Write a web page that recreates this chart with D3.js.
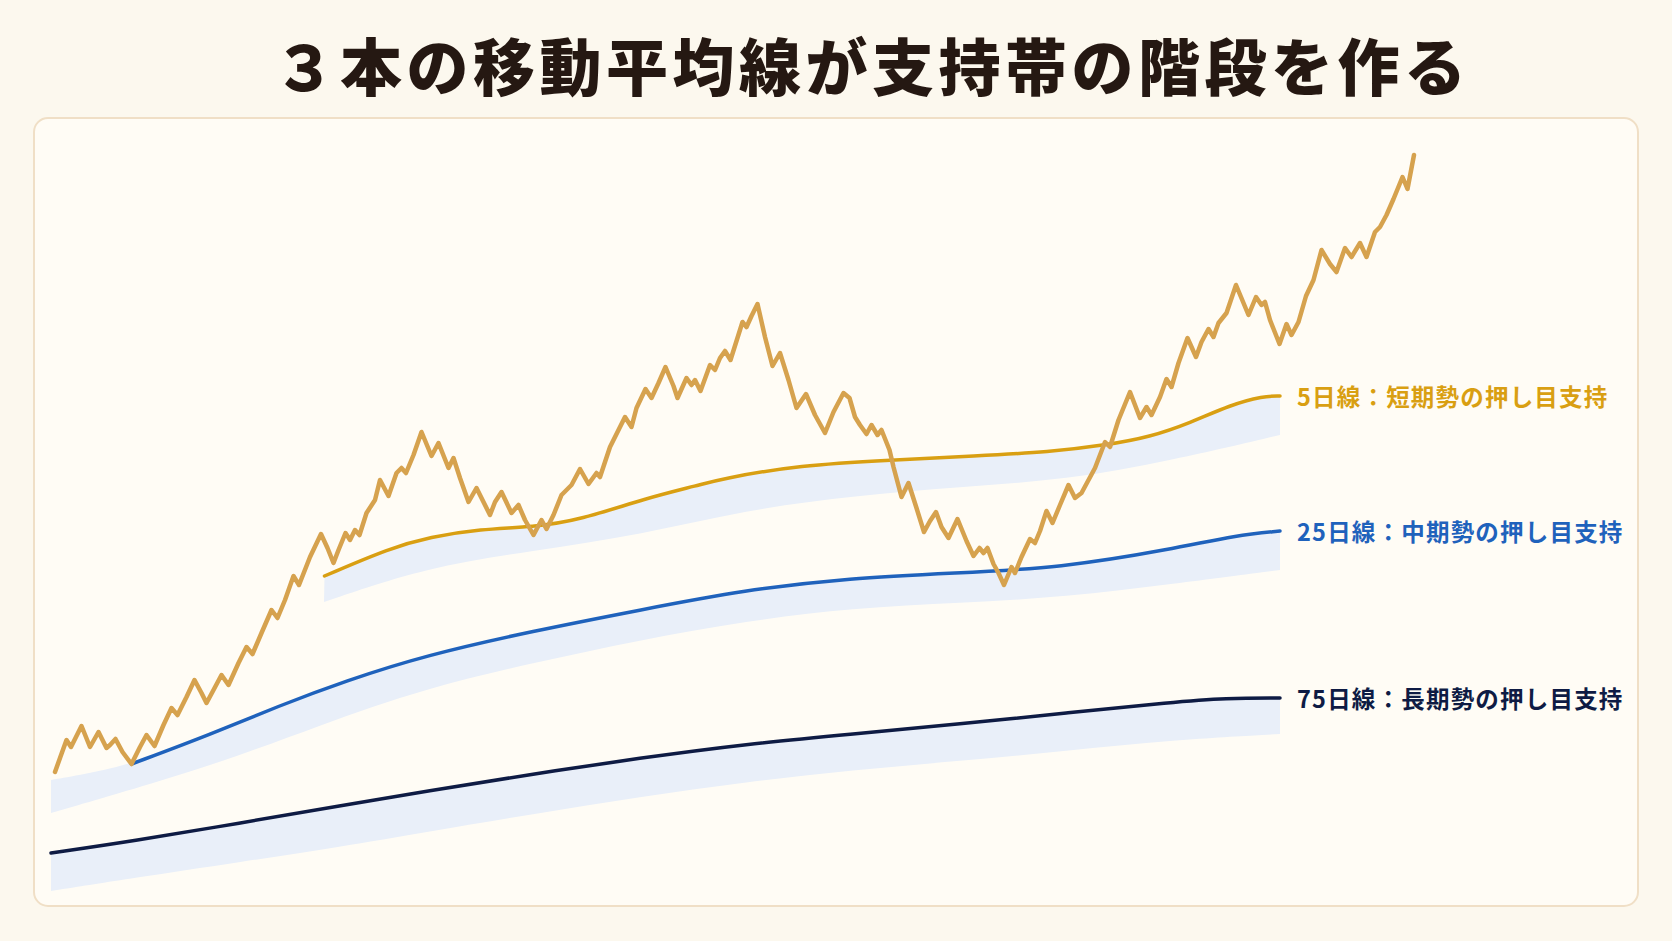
<!DOCTYPE html>
<html lang="ja">
<head>
<meta charset="utf-8">
<script src="https://cdn.jsdelivr.net/npm/d3@7"></script>
<style>
    html, body { margin: 0; padding: 0; background: #fcf8ee; }
    svg { display: block; }
</style>
</head>
<body>
<div id="chart"></div>
<script>
// ---- data (day index, price) ----
const titleText = "３本の移動平均線が支持帯の階段を作る";

const pricePoints = [
    [0, 1108], [1, 1122], [2.3, 1140], [3.2, 1133], [5.3, 1154], [7, 1133], [8.7, 1148], [10.3, 1132],
    [11, 1135], [12.1, 1141], [13.5, 1128], [15.3, 1116], [17, 1133], [18.3, 1145], [19.9, 1134],
    [21.7, 1155], [23.3, 1172], [24.5, 1165], [26.3, 1183], [27.9, 1200], [29.3, 1187], [30.3, 1177],
    [31.7, 1190], [33.3, 1205], [34.7, 1195], [36.7, 1217], [38.3, 1233], [39.5, 1226], [41.3, 1247],
    [43.3, 1270], [44.5, 1262], [46, 1280], [47.7, 1304], [48.8, 1295], [51, 1323], [53.2, 1346],
    [54.5, 1332], [55.7, 1317], [56.7, 1330], [58.1, 1347], [59, 1340], [60, 1350], [60.9, 1345],
    [62.3, 1367], [64, 1380], [65, 1400], [66.7, 1384], [68.3, 1407], [69.3, 1412], [70.2, 1407],
    [71.7, 1425], [73.3, 1448], [75.3, 1424], [76.7, 1437], [78.7, 1412], [79.7, 1422], [81, 1402],
    [82.7, 1378], [84.3, 1392], [85.7, 1378], [87, 1365], [88, 1378], [89.3, 1388], [91.3, 1367],
    [92.7, 1375], [94, 1360], [95.7, 1345], [97.3, 1360], [98.3, 1351], [99.7, 1365], [101.3, 1385],
    [103.3, 1395], [105, 1411], [106.7, 1396], [108.3, 1407], [109, 1403], [111, 1433], [114, 1463],
    [115.3, 1453], [116.3, 1472], [118.1, 1491], [119.3, 1482], [120.7, 1497], [122.1, 1513],
    [123.7, 1494], [124.5, 1482], [126.3, 1502], [127.3, 1495], [128, 1500], [129.1, 1489], [131, 1515],
    [132, 1510], [133, 1522], [134, 1529], [135.1, 1520], [137.5, 1558], [138.3, 1553], [139.3, 1564],
    [140.5, 1576], [142, 1543], [143.5, 1514], [145, 1527], [146.7, 1500], [148.3, 1472], [150.2, 1486],
    [152, 1465], [154, 1447], [155.7, 1468], [157.7, 1487], [158.9, 1482], [160, 1463], [161, 1455],
    [162.3, 1446], [163.3, 1455], [164.5, 1445], [165.3, 1450], [166.9, 1430], [167.7, 1413],
    [169.3, 1383], [170.7, 1397], [172.3, 1372], [173.8, 1348], [175, 1359], [176.2, 1368], [177.3, 1353],
    [178.7, 1342], [180.5, 1361], [182.3, 1339], [183.7, 1324], [184.9, 1332], [185.7, 1327],
    [186.5, 1332], [187.7, 1316], [188.7, 1307], [189.8, 1295], [191.3, 1313], [192, 1307], [193.3, 1323],
    [195, 1341], [196, 1337], [197, 1349], [198.3, 1369], [199.5, 1357], [201, 1375], [202.7, 1395],
    [204, 1382], [205.3, 1387], [208, 1412], [210, 1438], [211, 1433], [212.7, 1460], [215, 1488],
    [217, 1462], [218.3, 1473], [219.3, 1465], [221, 1483], [222.3, 1501], [223.3, 1493], [224.7, 1517],
    [226.5, 1542], [228.2, 1523], [229.3, 1538], [230.7, 1551], [231.7, 1543], [232.7, 1557],
    [234.3, 1567], [236.2, 1595], [237.7, 1577], [238.7, 1565], [240.2, 1583], [241.3, 1575], [242, 1578],
    [243, 1560], [244.9, 1536], [246.3, 1556], [247.3, 1545], [248.7, 1558], [250.2, 1584], [251.7, 1600],
    [253.3, 1630], [255, 1616], [256.3, 1608], [258, 1632], [259.3, 1623], [261, 1637], [262.3, 1623],
    [264, 1648], [265, 1653], [266.3, 1665], [267.7, 1681], [269.5, 1703], [270.5, 1691], [271.8, 1725]
];

const ma5 = [
    [53.9, 1304], [67, 1332], [75, 1343], [85, 1351], [95.7, 1353], [105, 1360], [118.3, 1382],
    [129, 1395], [133, 1401], [149, 1415], [167.3, 1420], [184, 1424], [199, 1428], [210.3, 1435],
    [219, 1443], [227, 1457], [235, 1475], [241.7, 1484], [245, 1484]
];
const ma25 = [
    [15.3, 1116], [31.3, 1146], [44.7, 1174], [58, 1199], [74.3, 1225], [95.6, 1249],
    [117, 1270], [138, 1290], [159, 1302], [180, 1307], [201, 1312], [223.6, 1331],
    [236.4, 1345], [245, 1349]
];
const ma75 = [
    [-0.8, 1027], [15.7, 1039], [37, 1057], [57, 1074], [74.3, 1089], [95.6, 1106], [117, 1122],
    [138.2, 1136], [159.6, 1146], [181, 1156], [202.2, 1167], [223.6, 1178], [234.2, 1182], [245, 1182]
];

// support bands: upper edge before the line starts, and lower edge
const band25Lead = [[-0.8, 1100], [7, 1107]];
const band5Low = [
    [53.8, 1278], [74.3, 1313], [95.6, 1329], [117, 1345], [138.2, 1370], [159.6, 1384],
    [181, 1393], [202.2, 1400], [223.6, 1420], [245, 1445]
];
const band25Low = [
    [-0.8, 1067], [31.6, 1114], [53, 1155], [74.3, 1192], [95.6, 1217], [117, 1240], [138.2, 1259],
    [159.6, 1272], [181, 1277], [202.2, 1283], [223.6, 1296], [245, 1310]
];
const band75Low = [
    [-0.8, 989], [15.6, 1002], [37, 1018], [57, 1033], [74.3, 1048], [95.6, 1066], [117, 1083],
    [138.2, 1098], [159.6, 1110], [181, 1119], [202.2, 1129], [223.6, 1140], [245, 1146]
];

const maLabels = ["5日線：短期勢の押し目支持", "25日線：中期勢の押し目支持", "75日線：長期勢の押し目支持"];
const maColors = ["#d99f12", "#1f62bc", "#0e1b44"];

// ---- layout ----
var width = 1672;
var height = 941;
var panel = { x: 34, y: 118, w: 1604, h: 788 };

var svg = d3.select("#chart")
    .append("svg")
    .attr("width", width)
    .attr("height", height);

svg.append("rect")
    .attr("width", width)
    .attr("height", height)
    .attr("fill", "#fcf8ee");

svg.append("rect")
    .attr("x", panel.x)
    .attr("y", panel.y)
    .attr("width", panel.w)
    .attr("height", panel.h)
    .attr("rx", 14)
    .attr("fill", "#fffcf5")
    .attr("stroke", "#f0dfc6")
    .attr("stroke-width", 2);

svg.append("text")
    .attr("x", 872)
    .attr("y", 64)
    .attr("text-anchor", "middle")
    .attr("dominant-baseline", "central")
    .attr("font-family", "'Noto Sans CJK JP', 'Noto Sans CJK SC', sans-serif")
    .attr("font-weight", 900)
    .attr("font-size", 62)
    .attr("letter-spacing", 4.5)
    .attr("fill", "#251812")
    .text(titleText);

var x = d3.scaleLinear().domain([0, 272]).range([55, 1415]);
var y = d3.scaleLinear().domain([1000, 1740]).range([880, 140]);

var smooth = d3.line()
    .x(function (d) { return x(d[0]); })
    .y(function (d) { return y(d[1]); })
    .curve(d3.curveBasis);

function bandPath(top, low) {
    var back = low.slice().reverse();
    return smooth(top) + smooth(back).replace("M", "L") + "Z";
}

var bands = svg.append("g").attr("class", "bands");
bands.append("path").attr("d", bandPath(ma5, band5Low));
bands.append("path").attr("d", bandPath(band25Lead.concat(ma25), band25Low));
bands.append("path").attr("d", bandPath(ma75, band75Low));
bands.selectAll("path").attr("fill", "#e9eff9").attr("stroke", "none");

var maData = [ma5, ma25, ma75];

svg.append("g")
    .attr("class", "ma")
    .selectAll("path")
    .data(maData)
    .enter()
    .append("path")
    .attr("d", smooth)
    .attr("fill", "none")
    .attr("stroke", function (d, i) { return maColors[i]; })
    .attr("stroke-width", 3.5)
    .attr("stroke-linecap", "round");

var priceLine = d3.line()
    .x(function (d) { return x(d[0]); })
    .y(function (d) { return y(d[1]); });

svg.append("path")
    .datum(pricePoints)
    .attr("d", priceLine)
    .attr("fill", "none")
    .attr("stroke", "#d6a24e")
    .attr("stroke-width", 4.5)
    .attr("stroke-linejoin", "round")
    .attr("stroke-linecap", "round");

svg.append("g")
    .attr("class", "labels")
    .selectAll("text")
    .data(maData)
    .enter()
    .append("text")
    .attr("x", function (d) { return x(d[d.length - 1][0]) + 17; })
    .attr("y", function (d) { return y(d[d.length - 1][1]); })
    .attr("dominant-baseline", "central")
    .attr("font-family", "'Noto Sans CJK JP', 'Noto Sans CJK SC', sans-serif")
    .attr("font-weight", 700)
    .attr("font-size", 23.5)
    .attr("letter-spacing", 1.2)
    .attr("fill", function (d, i) { return maColors[i]; })
    .text(function (d, i) { return maLabels[i]; });
</script>
</body>
</html>
